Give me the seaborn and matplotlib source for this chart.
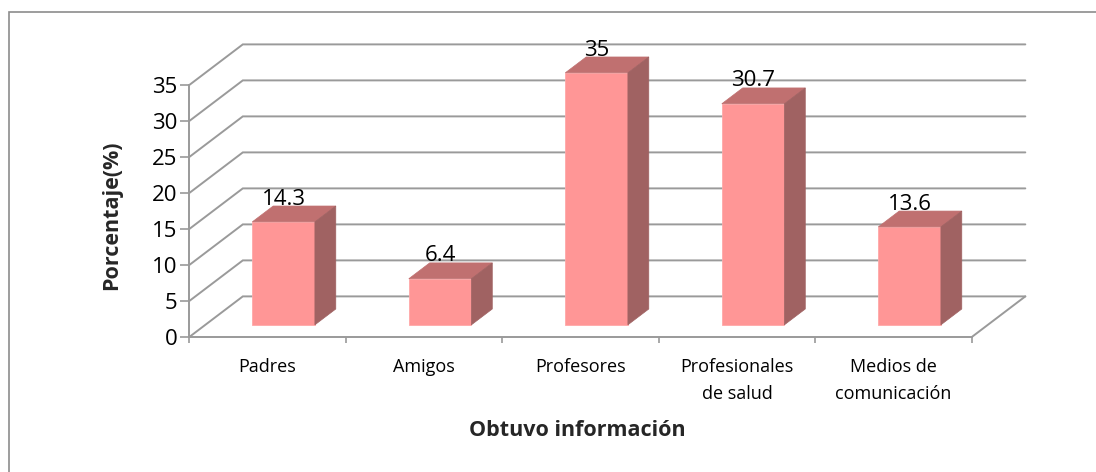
import matplotlib
matplotlib.use("Agg")
import matplotlib.pyplot as plt
from matplotlib.patches import Polygon, Rectangle
import seaborn as sns
import pandas as pd

# ---- data ----
categories = ["Padres", "Amigos", "Profesores", "Profesionales\nde salud", "Medios de\ncomunicación"]
values = [14.3, 6.4, 35, 30.7, 13.6]
value_labels = ["14.3", "6.4", "35", "30.7", "13.6"]
y_ticks = [0, 5, 10, 15, 20, 25, 30, 35]
x_title = "Obtuvo información"
y_title = "Porcentaje(%)"

# ---- style ----
sns.set_theme(style="white")
plt.rcParams["font.family"] = ["Open Sans", "DejaVu Sans"]

FRONT = "#FF9696"
TOP = "#C07070"
SIDE = "#A06262"
GRID = "#9a9a9a"

# oblique depth (full depth of the floor) in data units
DX, DY = 0.342, 5.64
F0, F1 = 0.30, 0.69      # bar front / back depth fractions
BAR_W = 0.40

W, H = 1096, 472
fig = plt.figure(figsize=(W / 100, H / 100), dpi=100)
ax = fig.add_axes([189.3 / W, (H - 344.2) / H, 860.75 / W, 309.6 / H])

df = pd.DataFrame({"cat": categories, "val": values})
n = len(categories)

# front faces through seaborn
sns.barplot(data=df, x="cat", y="val", width=BAR_W, color=FRONT, saturation=1,
            edgecolor="#FFA8A8", linewidth=0.6, ax=ax, zorder=3)
ax.set_xlim(-0.5, 5.0)
ax.set_ylim(-1, 42)

# back wall + side wall gridlines
for v in y_ticks:
    ax.plot([-0.5, -0.5 + DX, n - 0.5 + DX], [v, v + DY, v + DY],
            color=GRID, lw=1.4, zorder=1, solid_joinstyle="miter", clip_on=False)
# right floor edge
ax.plot([n - 0.5, n - 0.5 + DX], [0, DY], color=GRID, lw=1.4, zorder=1, clip_on=False)

bdx, bdy = (F1 - F0) * DX, (F1 - F0) * DY
for i, p in enumerate(ax.patches[:n]):
    x0, w, h = p.get_x(), p.get_width(), p.get_height()
    sx, sy = F0 * DX, F0 * DY
    p.set_xy((x0 + sx, sy))
    x0 += sx
    # top face
    ax.add_patch(Polygon([(x0, h + sy), (x0 + w, h + sy), (x0 + w + bdx, h + sy + bdy),
                          (x0 + bdx, h + sy + bdy)], closed=True, facecolor=TOP,
                         edgecolor=TOP, lw=0.5, zorder=3))
    # side face
    ax.add_patch(Polygon([(x0 + w, sy), (x0 + w, h + sy), (x0 + w + bdx, h + sy + bdy),
                          (x0 + w + bdx, sy + bdy)], closed=True, facecolor=SIDE,
                         edgecolor=SIDE, lw=0.5, zorder=3))
    ax.annotate(value_labels[i], (x0 + w / 2, h + F1 * DY), xytext=(0, 5),
                textcoords="offset points", ha="center", va="center",
                fontsize=16, color="black", zorder=5)

# axes decoration
for s in ["top", "right"]:
    ax.spines[s].set_visible(False)
ax.spines["left"].set_position(("data", -0.5))
ax.spines["left"].set_bounds(0, 35)
ax.spines["bottom"].set_position(("data", 0))
ax.spines["bottom"].set_bounds(-0.5, n - 0.5)
for s in ["left", "bottom"]:
    ax.spines[s].set_color(GRID)
    ax.spines[s].set_linewidth(1.4)
    ax.spines[s].set_zorder(2)

ax.set_yticks(y_ticks)
ax.set_yticklabels([str(t) for t in y_ticks])
ax.tick_params(axis="y", which="major", direction="out", length=6.5, width=1.2,
               color=GRID, pad=2, labelsize=16, labelcolor="black", left=True)
ax.set_xticks(range(n))
ax.set_xticklabels(categories, linespacing=1.65)
ax.set_xticks([i - 0.5 for i in range(n + 1)], minor=True)
ax.tick_params(axis="x", which="major", length=0, pad=15, labelsize=13, labelcolor="black")
ax.tick_params(axis="x", which="minor", direction="out", length=4, width=1.2,
               color=GRID, bottom=True)
ax.set_xlabel("")
ax.set_ylabel("")

fig.text(577 / W, 1 - 430 / H, x_title, ha="center", va="center",
         fontsize=15.5, fontweight="bold")
fig.text(112 / W, 1 - 215 / H, y_title, ha="center", va="center",
         fontsize=15.5, fontweight="bold", rotation=90)

# chart border (extends past the image edges)
fig.add_artist(Rectangle((9 / W, -0.1), 1.2, 1 - 12 / H + 0.1, transform=fig.transFigure,
                         fill=False, edgecolor="#8c8c8c", lw=1.2))

fig.savefig("out.png", dpi=100, facecolor="white")
